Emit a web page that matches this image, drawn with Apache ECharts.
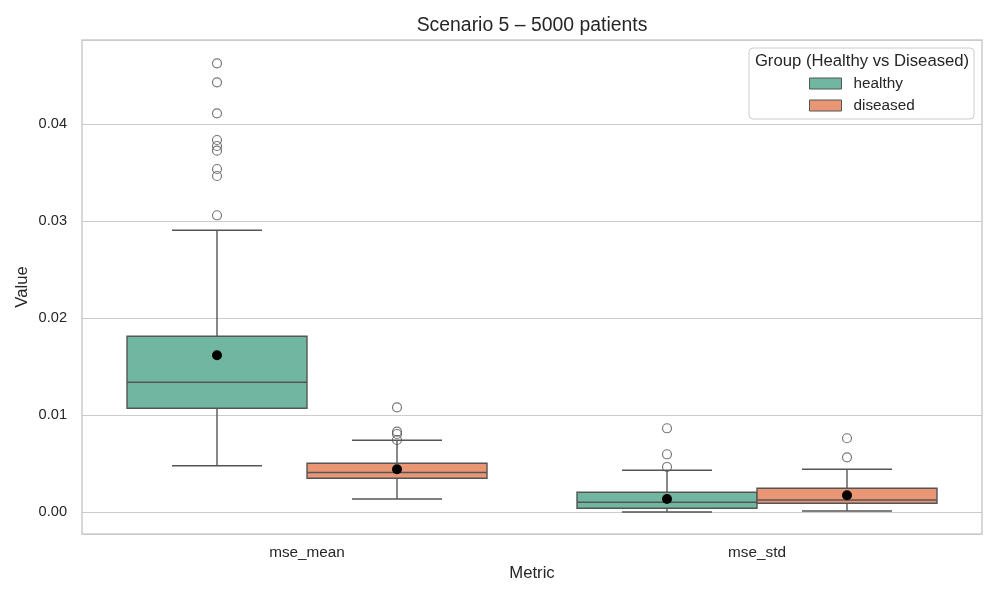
<!DOCTYPE html>
<html>
<head>
<meta charset="utf-8">
<script src="https://cdn.jsdelivr.net/npm/echarts@6/dist/echarts.min.js"></script>
<style>
  html, body { margin: 0; padding: 0; background: #fff; }
  #chart { width: 1000px; height: 600px; }
</style>
</head>
<body>
<div id="chart"></div>
<script>
// data
const categories = ['mse_mean', 'mse_std']
const groups = ['healthy', 'diseased']
// [lower whisker, Q1, median, Q3, upper whisker] per category
const healthyBox = [
  [0.00477, 0.01069, 0.01337, 0.01811, 0.02904],
  [0.00000, 0.00038, 0.00100, 0.00203, 0.00430],
]
const diseasedBox = [
  [0.00134, 0.00347, 0.00407, 0.00502, 0.00739],
  [0.00010, 0.00090, 0.00124, 0.00244, 0.00440],
]
const healthyMean = [0.01615, 0.00134]
const diseasedMean = [0.00441, 0.00172]
const healthyOutliers = [
  [0.04626, 0.04430, 0.04110, 0.03835, 0.03773, 0.03725, 0.03536, 0.03464, 0.03059],
  [0.00863, 0.00595, 0.00464],
]
const diseasedOutliers = [
  [0.01079, 0.00828, 0.00804, 0.00742],
  [0.00760, 0.00564],
]
const yTicks = [0, 0.01, 0.02, 0.03, 0.04]

const colors = { healthy: '#71b6a1', diseased: '#e99675' }
const lineColor = '#555555'
const textColor = '#262626'
const font = 'Liberation Sans, Arial, sans-serif'
const offsets = { healthy: -0.2, diseased: 0.2 }

function boxData(boxes, off) {
  return boxes.map((b, i) => [i + off].concat(b))
}
function pointData(vals, off) {
  return vals.map((v, i) => [i + off, v])
}
function outlierData(lists, off) {
  const out = []
  lists.forEach((vals, i) => vals.forEach(v => out.push([i + off, v])))
  return out
}

function renderBox(params, api) {
  const x = api.value(0)
  const lo = api.coord([x, api.value(1)])
  const q1 = api.coord([x, api.value(2)])
  const med = api.coord([x, api.value(3)])
  const q3 = api.coord([x, api.value(4)])
  const hi = api.coord([x, api.value(5)])
  const w = api.size([0.4, 0])[0]
  const cap = w / 4
  const ls = { stroke: lineColor, lineWidth: 1.4 }
  return {
    type: 'group',
    children: [
      { type: 'line', shape: { x1: lo[0], y1: lo[1], x2: q1[0], y2: q1[1] }, style: ls },
      { type: 'line', shape: { x1: q3[0], y1: q3[1], x2: hi[0], y2: hi[1] }, style: ls },
      { type: 'line', shape: { x1: lo[0] - cap, y1: lo[1], x2: lo[0] + cap, y2: lo[1] }, style: ls },
      { type: 'line', shape: { x1: hi[0] - cap, y1: hi[1], x2: hi[0] + cap, y2: hi[1] }, style: ls },
      {
        type: 'rect',
        shape: { x: q3[0] - w / 2, y: q3[1], width: w, height: q1[1] - q3[1] },
        style: { fill: api.visual('color'), stroke: lineColor, lineWidth: 1.4 },
      },
      { type: 'line', shape: { x1: med[0] - w / 2, y1: med[1], x2: med[0] + w / 2, y2: med[1] }, style: ls },
    ],
  }
}

const chart = echarts.init(document.getElementById('chart'))

const series = []
groups.forEach(g => {
  const box = g === 'healthy' ? healthyBox : diseasedBox
  series.push({
    name: g,
    type: 'custom',
    xAxisIndex: 1,
    renderItem: renderBox,
    itemStyle: { color: colors[g] },
    encode: { x: 0, y: [1, 2, 3, 4, 5] },
    data: boxData(box, offsets[g]),
    z: 2,
  })
})
groups.forEach(g => {
  const outl = g === 'healthy' ? healthyOutliers : diseasedOutliers
  series.push({
    name: g + ' outliers',
    type: 'scatter',
    xAxisIndex: 1,
    symbol: 'circle',
    symbolSize: 9,
    itemStyle: { color: 'rgba(255,255,255,0)', borderColor: lineColor, borderWidth: 1.2 },
    data: outlierData(outl, offsets[g]),
    z: 3,
  })
})
groups.forEach(g => {
  const mean = g === 'healthy' ? healthyMean : diseasedMean
  series.push({
    name: g + ' mean',
    type: 'scatter',
    xAxisIndex: 1,
    symbol: 'circle',
    symbolSize: 10,
    itemStyle: { color: '#000000', opacity: 1 },
    data: pointData(mean, offsets[g]),
    z: 4,
  })
})

const option = {
  animation: false,
  textStyle: { fontFamily: font, color: textColor },
  title: {
    text: 'Scenario 5 \u2013 5000 patients',
    left: 532,
    top: 16,
    padding: 0,
    textAlign: 'center',
    textStyle: { fontFamily: font, fontSize: 19.4, fontWeight: 'normal', color: textColor },
  },
  grid: {
    left: 82,
    right: 18,
    top: 40,
    bottom: 66,
    show: true,
    borderColor: '#cccccc',
    borderWidth: 1.5,
    backgroundColor: '#ffffff',
  },
  legend: {
    data: groups.map(g => ({
      name: g,
      itemStyle: { color: colors[g], borderColor: lineColor, borderWidth: 1 },
    })),
    orient: 'vertical',
    left: 809,
    top: 76,
    padding: 0,
    itemWidth: 32,
    itemHeight: 11,
    itemGap: 7,
    icon: 'rect',
    selectedMode: false,
    textStyle: { fontFamily: font, fontSize: 15.3, color: textColor, padding: [0, 0, 0, 7] },
  },
  graphic: [
    {
      type: 'rect',
      shape: { x: 749, y: 48, width: 225, height: 71, r: 4 },
      style: { fill: 'rgba(255,255,255,0.8)', stroke: '#cccccc', lineWidth: 1 },
      z: 3,
    },
    {
      type: 'text',
      x: 862,
      y: 61,
      style: {
        text: 'Group (Healthy vs Diseased)',
        fontFamily: font,
        fontSize: 16.7,
        fill: textColor,
        align: 'center',
        verticalAlign: 'middle',
      },
      z: 5,
    },
  ],
  xAxis: [
    {
      type: 'category',
      data: categories,
      name: 'Metric',
      nameLocation: 'middle',
      nameGap: 31,
      nameMoveOverlap: false,
      nameTextStyle: { fontFamily: font, fontSize: 16.7, color: textColor },
      axisLine: { show: false },
      axisTick: { show: false },
      axisLabel: { margin: 11, fontFamily: font, fontSize: 15.3, color: textColor },
      splitLine: { show: false },
    },
    {
      type: 'value',
      min: -0.5,
      max: 1.5,
      show: false,
    },
  ],
  yAxis: {
    type: 'value',
    min: -0.00227,
    max: 0.04866,
    splitNumber: 5,
    name: 'Value',
    nameLocation: 'middle',
    nameGap: 51,
    nameMoveOverlap: false,
    nameTextStyle: { fontFamily: font, fontSize: 16.7, color: textColor },
    axisLine: { show: false },
    axisTick: { show: false },
    axisLabel: {
      margin: 15,
      fontFamily: font,
      fontSize: 14.6,
      color: textColor,
      showMinLabel: false,
      showMaxLabel: false,
      formatter: v => (yTicks.some(t => Math.abs(t - v) < 1e-9) ? v.toFixed(2) : ''),
    },
    splitLine: { show: true, lineStyle: { color: '#cccccc', width: 1.1 } },
  },
  series: series,
}

chart.setOption(option)
</script>
</body>
</html>
